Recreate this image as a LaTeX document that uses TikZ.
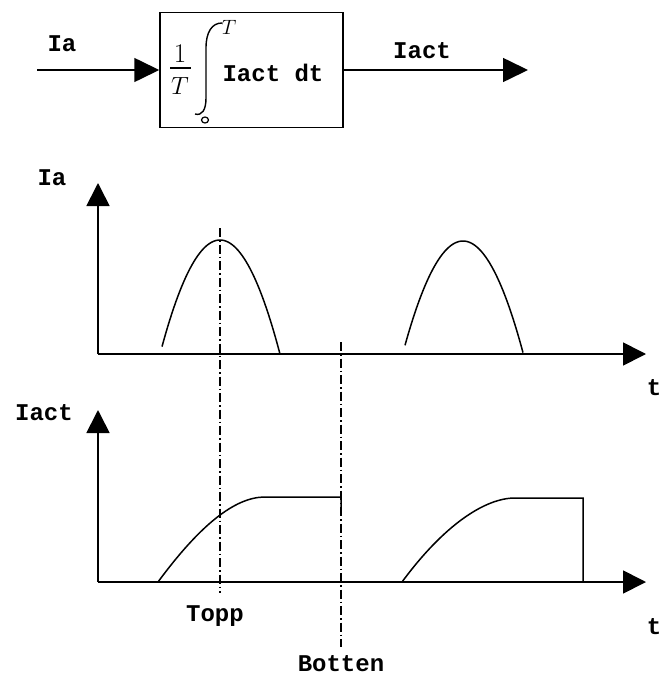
\documentclass[tikz,border=0pt]{standalone}
\usepackage{fontspec}
\usetikzlibrary{arrows.meta}
\newfontfamily\cour{Liberation Mono}
\tikzset{
  lbl/.style={font=\cour\bfseries\fontsize{24}{27}\selectfont, inner sep=0pt},
  axis/.style={line width=1.7pt, -{Triangle[length=23pt,width=23pt]}},
  arr/.style={line width=1.6pt, -{Triangle[length=25pt,width=24pt]}},
  curve/.style={line width=1.5pt},
  dd/.style={line width=1.3pt, dash pattern=on 9pt off 3pt on 1.5pt off 3pt},
  blk/.style={draw, line width=1.5pt, minimum width=183pt, minimum height=115pt, inner sep=0pt},
  hand/.style={font=\fontsize{27}{30}\selectfont, inner sep=0pt}
}
\begin{document}
\begin{tikzpicture}[x=1pt,y=-1pt]
\useasboundingbox (0,0) rectangle (665,677);
% ---- block ----
\node[blk] (box) at (251.5,70) {};
\coordinate (in) at (37,70);
\coordinate (out) at (528,70);
\draw[arr] (in) -- (box.west);
\draw[arr] (box.east) -- (out);
\node[lbl] (lIa) at (62,44) {Ia};
\node[lbl] (lIact) at (422,51) {Iact};
% formula inside block
\node[hand] (one) at (180,54) {1};
\draw[line width=1.3pt] (170,68) -- (191,68);
\node[hand] (Tden) at (180,86) {$T$};
\draw[line width=1.4pt] (222,23) .. controls (212,23) and (206,32) .. (206,48) -- (206,98) .. controls (206,110) and (202,116) .. (195,114);
\node[hand, font=\fontsize{21}{23}\selectfont] (Tsup) at (229,27) {$T$};
\draw[line width=1.2pt] (205,120) ellipse (3.5pt and 3pt);
\node[lbl] (integrand) at (273,73) {Iact dt};
% ---- upper graph ----
\coordinate (o1) at (98,354);
\coordinate (y1) at (98,183);
\coordinate (x1) at (646,354);
\draw[axis] (o1) -- (y1);
\draw[axis] (o1) -- (x1);
\node[lbl] (lIa2) at (52,178) {Ia};
\node[lbl] (t1) at (654,388) {t};
\draw[curve] plot[domain=162:280, samples=60] (\x,{240+0.0317*(\x-220)^2});
\draw[curve] plot[domain=405:523, samples=60] (\x,{241+0.0310*(\x-463)^2});
% ---- lower graph ----
\coordinate (o2) at (98,582);
\coordinate (y2) at (98,410);
\coordinate (x2) at (646,582);
\draw[axis] (o2) -- (y2);
\draw[axis] (o2) -- (x2);
\node[lbl] (lIact2) at (44,413) {Iact};
\node[lbl] (t2) at (654,627) {t};
\draw[curve] (158,582) .. controls (200,525) and (235,497) .. (265,497) -- (341,497) -- (341,508);
\draw[curve] (402,582) .. controls (444,525) and (485,498) .. (515,498) -- (583,498) -- (583,582);
% ---- dash-dot markers ----
\coordinate (ta) at (220,228);
\coordinate (tb) at (220,593);
\coordinate (ba) at (341,342);
\coordinate (bb) at (341,647);
\draw[dd] (ta) -- (tb);
\draw[dd] (ba) -- (bb);
\node[lbl] (topp) at (215,616) {Topp};
\node[lbl] (botten) at (341,664) {Botten};
\end{tikzpicture}
\end{document}
